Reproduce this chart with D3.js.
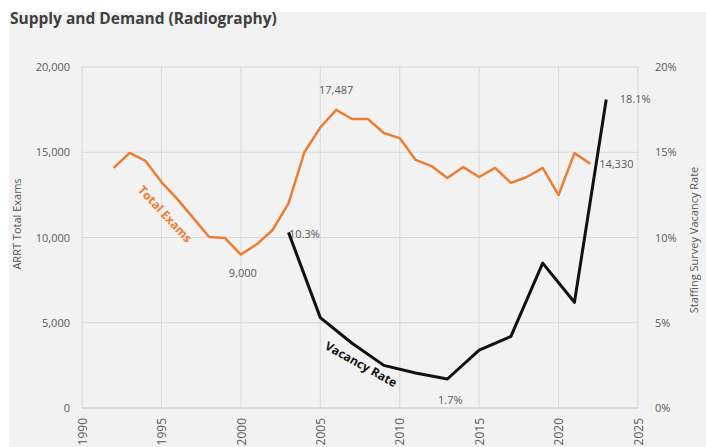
<!DOCTYPE html>
<html lang="en">
<head>
<meta charset="utf-8">
<style>
  body { margin: 0; background: #fff; }
  text { font-family: "Open Sans", "Noto Sans", sans-serif; fill: #595959; }
</style>
<script src="https://cdn.jsdelivr.net/npm/d3@7"></script>
</head>
<body>
<script>
var width = 706, height = 447;

// ARRT total exams (radiography), by year
var examYears = [1992, 1993, 1994, 1995, 1996, 1997, 1998, 1999, 2000, 2001, 2002, 2003, 2004, 2005,
                 2006, 2007, 2008, 2009, 2010, 2011, 2012, 2013, 2014, 2015, 2016, 2017, 2018, 2019,
                 2020, 2021, 2022];
var examValues = [14080, 14960, 14490, 13250, 12250, 11150, 10030, 9970, 9000, 9600, 10440, 12000, 15000, 16450,
                  17487, 16950, 16950, 16130, 15830, 14550, 14190, 13490, 14130, 13550, 14080, 13200, 13550, 14080,
                  12490, 14950, 14330];

// staffing survey vacancy rate (%)
var vacYears = [2003, 2005, 2007, 2009, 2011, 2013, 2015, 2017, 2019, 2021, 2023];
var vacValues = [10.3, 5.3, 3.8, 2.5, 2.05, 1.7, 3.4, 4.2, 8.5, 6.2, 18.1];

var xTicks = [1990, 1995, 2000, 2005, 2010, 2015, 2020, 2025];
var leftTicks = [0, 5000, 10000, 15000, 20000];
var rightTicks = [0, 5, 10, 15, 20];

var exams = examYears.map(function(y, i) { return { year: y, value: examValues[i] }; });
var vac = vacYears.map(function(y, i) { return { year: y, value: vacValues[i] }; });

var svg = d3.select("body").append("svg")
  .attr("width", width)
  .attr("height", height);

svg.append("rect").attr("x", 9).attr("y", 12).attr("width", width - 9).attr("height", height - 12)
  .attr("fill", "#f2f2f2");

var x = d3.scaleLinear().domain([1990, 2025]).range([82, 638]);
var yL = d3.scaleLinear().domain([0, 20000]).range([408, 67]);
var yR = d3.scaleLinear().domain([0, 20]).range([408, 67]);

// gridlines
svg.append("g").selectAll("line").data(leftTicks).enter().append("line")
  .attr("x1", x(1990)).attr("x2", x(2025))
  .attr("y1", function(d) { return yL(d); }).attr("y2", function(d) { return yL(d); })
  .attr("stroke", "#d9d9d9").attr("stroke-width", 1);
svg.append("g").selectAll("line").data(xTicks).enter().append("line")
  .attr("x1", function(d) { return x(d); }).attr("x2", function(d) { return x(d); })
  .attr("y1", yL(20000)).attr("y2", yL(0))
  .attr("stroke", "#d9d9d9").attr("stroke-width", 1);

// axes
var leftAxis = svg.append("g").attr("transform", "translate(" + x(1990) + ",0)")
  .call(d3.axisLeft(yL).tickValues(leftTicks).tickSize(0).tickPadding(12).tickFormat(d3.format(",")));
var rightAxis = svg.append("g").attr("transform", "translate(" + x(2025) + ",0)")
  .call(d3.axisRight(yR).tickValues(rightTicks).tickSize(0).tickPadding(17).tickFormat(function(d) { return d + "%"; }));
var bottomAxis = svg.append("g").attr("transform", "translate(0," + yL(0) + ")")
  .call(d3.axisBottom(x).tickValues(xTicks).tickSize(0).tickFormat(d3.format("d")));
[leftAxis, rightAxis, bottomAxis].forEach(function(a) {
  a.select(".domain").remove();
  a.selectAll("text").style("font-size", "11px").style("fill", "#595959")
    .style("font-family", "'Open Sans', sans-serif");
});
bottomAxis.selectAll("text")
  .attr("transform", "rotate(-90)")
  .attr("text-anchor", "end")
  .attr("x", -10).attr("y", 0).attr("dy", "0.35em")
  .style("font-size", "12px");
svg.append("line").attr("x1", x(1990)).attr("x2", x(2025)).attr("y1", yL(0)).attr("y2", yL(0))
  .attr("stroke", "#d0d0d0");

// lines
var examLine = d3.line().x(function(d) { return x(d.year); }).y(function(d) { return yL(d.value); });
var vacLine = d3.line().x(function(d) { return x(d.year); }).y(function(d) { return yR(d.value); });

svg.append("path").datum(exams).attr("d", examLine)
  .attr("fill", "none").attr("stroke", "#ed7d31").attr("stroke-width", 2.5).attr("stroke-linejoin", "round");
svg.append("path").datum(vac).attr("d", vacLine)
  .attr("fill", "none").attr("stroke", "#111").attr("stroke-width", 3).attr("stroke-linejoin", "round");

// data labels
function label(px, py, txt, anchor) {
  svg.append("text").attr("x", px).attr("y", py).attr("text-anchor", anchor || "middle")
    .style("font-size", "11px").text(txt);
}
var peak = exams[14], low = exams[8], last = exams[exams.length - 1];
label(x(peak.year), yL(peak.value) - 16, d3.format(",")(peak.value));
label(x(low.year) + 2, yL(low.value) + 22, d3.format(",")(low.value));
label(x(last.year) + 26, yL(last.value) + 4, d3.format(",")(last.value));
label(x(vac[0].year) + 16, yR(vac[0].value) + 6, vac[0].value + "%");
label(x(vac[5].year) + 3, yR(vac[5].value) + 25, vac[5].value + "%");
label(x(vac[10].year) + 29, yR(vac[10].value) + 4, vac[10].value + "%");

// series names along the lines
svg.append("text").attr("transform", "translate(162,217) rotate(47)")
  .attr("text-anchor", "middle").style("font-size", "12px").style("font-weight", "bold")
  .style("fill", "#ed7d31").text("Total Exams");
svg.append("text").attr("transform", "translate(359,368) rotate(29)")
  .attr("text-anchor", "middle").style("font-size", "12px").style("font-weight", "bold")
  .style("fill", "#111").text("Vacancy Rate");

// axis titles
svg.append("text").attr("transform", "translate(21,224) rotate(-90)")
  .attr("text-anchor", "middle").style("font-size", "11px").text("ARRT Total Exams");
svg.append("text").attr("transform", "translate(698,240) rotate(-90)")
  .attr("text-anchor", "middle").style("font-size", "11px").text("Staffing Survey Vacancy Rate");

// title (top cut off as in the source picture)
svg.append("text").attr("x", 10).attr("y", 24)
  .style("font-size", "15.5px").style("font-weight", "bold").style("fill", "#404040")
  .text("Supply and Demand (Radiography)");
svg.append("rect").attr("x", 0).attr("y", 0).attr("width", width).attr("height", 12).attr("fill", "#fff");
</script>
</body>
</html>
